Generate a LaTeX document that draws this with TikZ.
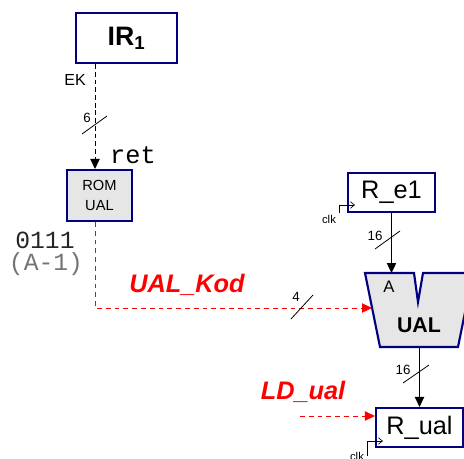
\documentclass[tikz,border=0pt]{standalone}
\usepackage{fontspec}
\setmainfont{Liberation Sans}
\setmonofont{Liberation Mono}
\usetikzlibrary{arrows.meta,calc}
\definecolor{regblue}{RGB}{0,0,128}
\definecolor{romgray}{RGB}{230,230,230}
\begin{document}
\begin{tikzpicture}[x=0.75pt, y=-0.75pt, line width=0.9pt,
  reg/.style={draw=regblue, line width=1.6pt, fill=white, inner sep=0pt},
  rom/.style={reg, fill=romgray, align=center, font=\fontsize{11}{15}\selectfont},
  bus/.style={-{Triangle[length=7.5pt,width=7pt]}},
  ctl/.style={line width=0.75pt, dash pattern=on 3.6pt off 2.2pt},
  red ctl/.style={ctl, red, dash pattern=on 3.6pt off 3pt, -{Triangle[length=7.5pt,width=7pt]}},
  num/.style={font=\fontsize{10}{12}\selectfont, inner sep=0pt},
  sig/.style={text=red, font=\fontsize{19}{22}\selectfont\bfseries\itshape, inner sep=0pt},
  clk/.style={font=\fontsize{8.5}{10}\selectfont, inner sep=0pt}]
  \useasboundingbox (0,0) rectangle (464,458);

  % registers
  \node[reg, minimum width=75.75pt, minimum height=37.5pt, font=\fontsize{20}{24}\selectfont\bfseries] (ir) at (126.5,38) {IR\textsubscript{1}};
  \node[rom, minimum width=48.75pt, minimum height=38.25pt] (rom) at (99.5,195.5) {ROM\\UAL};
  \node[reg, minimum width=65.25pt, minimum height=29.25pt, font=\fontsize{19}{22}\selectfont] (re) at (391.5,192.5) {R\_e1};
  \node[reg, minimum width=65.25pt, minimum height=29.25pt, font=\fontsize{19}{22}\selectfont] (rual) at (419.5,427.5) {R\_ual};

  % UAL
  \draw[regblue, line width=1.6pt, fill=romgray, line join=miter]
    (365,273) -- (414,273) -- (418,302) -- (423,273) -- (473,273)
    -- (458,347) -- (380,347) -- cycle;
  \coordinate (ualA) at (391.5,273);
  \coordinate (ualK) at (372,308);
  \coordinate (ualout) at (419.5,347);
  \node[font=\fontsize{12.5}{14}\selectfont, inner sep=0pt] (ala) at (389,287) {A};
  \node[font=\fontsize{16}{18}\selectfont\bfseries, inner sep=0pt] (ual) at (419,325) {UAL};

  % IR1 -> ROM
  \coordinate (ekx) at (95,0);
  \draw[ctl, -{Triangle[length=7.5pt,width=7pt]}] (ir.south -| ekx) -- (ekx |- rom.north);
  \node[font=\fontsize{12}{14}\selectfont, inner sep=0pt] (ek) at (75,80) {EK};
  \draw[line width=0.6pt] (82,134) -- (107,116);
  \node[num] (n6) at (87,118) {6};
  \node[font=\ttfamily\fontsize{19}{22}\selectfont, inner sep=0pt] (ret) at (133,155) {ret};

  % ROM contents
  \node[font=\ttfamily\fontsize{18.5}{22}\selectfont, text=black!85, inner sep=0pt] (code) at (45,240) {0111};
  \node[font=\ttfamily\fontsize{18.5}{22}\selectfont, text=black!55, inner sep=0pt] (oper) at (46,264) {(A-1)};

  % ROM -> UAL
  \draw[red ctl] (ekx |- rom.south) |- (ualK);
  \node[sig] (kod) at (187,285) {UAL\_Kod};
  \draw[line width=0.6pt] (291,319) -- (313,295);
  \node[num] (n4) at (296,297) {4};

  % R_e1 -> UAL
  \draw[bus] (re.south) -- (ualA);
  \draw[line width=0.6pt] (375,249) -- (400,231);
  \node[num] (n16a) at (375,236) {16};
  \draw[line width=0.5pt, -{Straight Barb[open,length=3pt,width=5pt]}] (339,213) |- ([xshift=6pt]re.west |- 0,205);
  \node[clk] (clka) at (329,219) {clk};

  % UAL -> R_ual
  \draw[bus] (ualout) -- (rual.north);
  \draw[line width=0.6pt] (403,383) -- (429,365);
  \node[num] (n16b) at (403,370) {16};
  \draw[line width=0.5pt, -{Straight Barb[open,length=3pt,width=5pt]}] (367,456) |- ([xshift=6pt]rual.west |- 0,441);
  \node[clk] (clkb) at (357,456) {clk};

  % load signal
  \coordinate (ld) at (300,416);
  \draw[red ctl] (ld) -- (ld -| rual.west);
  \node[sig] (ldual) at (303,392) {LD\_ual};
\end{tikzpicture}
\end{document}
